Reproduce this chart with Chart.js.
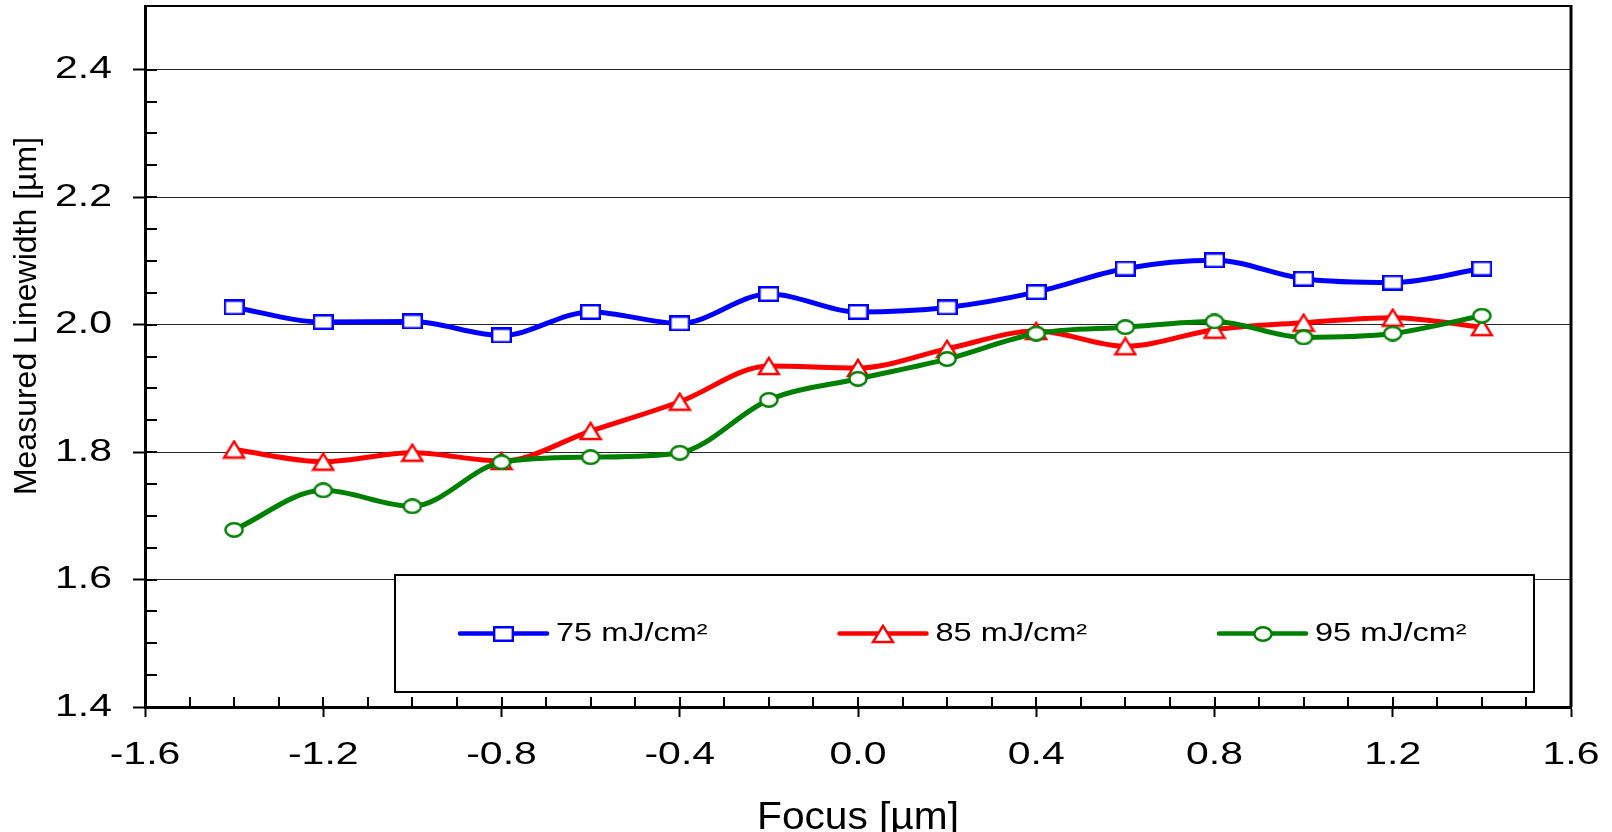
<!DOCTYPE html>
<html>
<head>
<meta charset="utf-8">
<title>Measured Linewidth vs Focus</title>
<script src="https://cdn.jsdelivr.net/npm/chart.js@4.4.1/dist/chart.umd.min.js"></script>
<style>
  html, body { margin: 0; padding: 0; background: #fff; }
  canvas { display: block; }
</style>
</head>
<body>
<canvas id="chart" width="1612" height="832"></canvas>
<script>
// focus positions [µm] and measured linewidth [µm] per dose
const focus = [-1.4, -1.2, -1.0, -0.8, -0.6, -0.4, -0.2, 0.0, 0.2, 0.4, 0.6, 0.8, 1.0, 1.2, 1.4];
const lw75 = [2.027, 2.004, 2.005, 1.983, 2.020, 2.002, 2.048, 2.020, 2.027, 2.051, 2.088, 2.101, 2.072, 2.066, 2.088];
const lw85 = [1.804, 1.785, 1.799, 1.786, 1.833, 1.879, 1.935, 1.932, 1.962, 1.990, 1.966, 1.992, 2.003, 2.011, 1.996];
const lw95 = [1.678, 1.740, 1.715, 1.784, 1.792, 1.799, 1.882, 1.915, 1.946, 1.986, 1.996, 2.005, 1.980, 1.986, 2.014];
const doseLabels = ['75 mJ/cm²', '85 mJ/cm²', '95 mJ/cm²'];

const xTicks = [-1.6, -1.2, -0.8, -0.4, 0.0, 0.4, 0.8, 1.2, 1.6];
const yTicks = [1.4, 1.6, 1.8, 2.0, 2.2, 2.4];
const xTitle = 'Focus [µm]';
const yTitle = 'Measured Linewidth [µm]';

const FONT = '"Liberation Sans", Arial, Helvetica, sans-serif';
const TICK_STRETCH = 1.3;     // tick numbers are drawn wide
const LEGEND_STRETCH = 1.25;
const LINE_WIDTH = 5;
Chart.defaults.font.family = FONT;
Chart.defaults.color = '#000';

// linear scale whose tick labels get a horizontal stretch
class WideTickScale extends Chart.LinearScale {
    drawLabels(chartArea) {
        if (!this.options.ticks.display) return;
        const ctx = this.ctx;
        for (const item of this.getLabelItems(chartArea)) {
            const o = item.options;
            ctx.save();
            ctx.translate(o.translation[0], o.translation[1]);
            ctx.scale(TICK_STRETCH, 1);
            ctx.font = item.font.string;
            ctx.fillStyle = o.color;
            ctx.textAlign = o.textAlign;
            ctx.textBaseline = o.textBaseline;
            ctx.fillText(item.label, 0, item.textOffset);
            ctx.restore();
        }
    }
}
WideTickScale.id = 'wideTickLinear';
WideTickScale.defaults = Chart.LinearScale.defaults;
Chart.register(WideTickScale);

// open markers, a bit wider than tall
function makeMarker(shape, color) {
    const c = document.createElement('canvas');
    if (shape === 'square') { c.width = 21; c.height = 16; }
    else if (shape === 'triangle') { c.width = 24; c.height = 20; }
    else { c.width = 20; c.height = 16; }
    const g = c.getContext('2d');
    g.fillStyle = '#fff';
    g.strokeStyle = color;
    g.lineWidth = 2.4;
    g.beginPath();
    if (shape === 'square') {
        g.rect(1.2, 1.2, 18.6, 13.6);
    } else if (shape === 'triangle') {
        g.moveTo(12, 1.8);
        g.lineTo(22, 18);
        g.lineTo(2, 18);
        g.closePath();
    } else {
        g.ellipse(10, 8, 8.6, 6.7, 0, 0, Math.PI * 2);
    }
    g.fill();
    g.stroke();
    return c;
}

const points = (ys) => focus.map((x, i) => ({x, y: ys[i]}));

// inner minor ticks plus top/right frame
const frameTicks = {
    id: 'frameTicks',
    afterDraw(chart) {
        const {ctx, chartArea: a, scales: {x, y}} = chart;
        ctx.save();
        ctx.strokeStyle = '#000';
        ctx.lineWidth = 2;
        ctx.beginPath();
        for (let i = 1; i < 32; i++) {
            const px = Math.round(x.getPixelForValue(-1.6 + i * 0.1));
            ctx.moveTo(px, a.bottom);
            ctx.lineTo(px, a.bottom - 10);
        }
        for (let i = 1; i < 21; i++) {
            const py = Math.round(y.getPixelForValue(1.4 + i * 0.05));
            ctx.moveTo(a.left, py);
            ctx.lineTo(a.left + 12, py);
        }
        ctx.stroke();

        ctx.beginPath();
        ctx.moveTo(a.left, a.top);
        ctx.lineTo(a.right, a.top);
        ctx.stroke();
        ctx.lineWidth = 3;
        ctx.beginPath();
        ctx.moveTo(a.right, a.top - 1);
        ctx.lineTo(a.right, a.bottom);
        ctx.stroke();
        ctx.restore();
    }
};

const axisTitles = {
    id: 'axisTitles',
    afterDraw(chart) {
        const {ctx, chartArea: a} = chart;
        ctx.save();
        ctx.fillStyle = '#000';
        ctx.textAlign = 'center';
        ctx.textBaseline = 'alphabetic';
        ctx.font = '38px ' + FONT;
        ctx.save();
        ctx.translate((a.left + a.right) / 2, 829);
        ctx.scale(1.07, 1);
        ctx.fillText(xTitle, 0, 0);
        ctx.restore();
        ctx.translate(36, 316);
        ctx.rotate(-Math.PI / 2);
        ctx.font = '32px ' + FONT;
        ctx.fillText(yTitle, 0, 0);
        ctx.restore();
    }
};

// boxed legend sitting inside the plot, line + marker samples
const legendBox = {
    id: 'legendBox',
    afterDatasetsDraw(chart) {
        const {ctx, chartArea: a} = chart;
        const left = a.left + 250, right = a.right - 37;
        const top = a.bottom - 132, bottom = a.bottom - 15;
        const cy = (top + bottom) / 2;
        ctx.save();
        ctx.fillStyle = '#fff';
        ctx.fillRect(left, top, right - left, bottom - top);
        ctx.strokeStyle = '#000';
        ctx.lineWidth = 2;
        ctx.strokeRect(left, top, right - left, bottom - top);
        ctx.font = '26px ' + FONT;
        ctx.textBaseline = 'middle';
        chart.data.datasets.forEach((ds, i) => {
            const x0 = left + 65 + i * 379.5;
            ctx.strokeStyle = ds.borderColor;
            ctx.lineWidth = 4.5;
            ctx.lineCap = 'round';
            ctx.beginPath();
            ctx.moveTo(x0, cy);
            ctx.lineTo(x0 + 87, cy);
            ctx.stroke();
            const m = ds.pointStyle;
            ctx.drawImage(m, Math.round(x0 + 43.5 - m.width / 2), Math.round(cy - m.height / 2));
            ctx.save();
            ctx.translate(x0 + 96, cy);
            ctx.scale(LEGEND_STRETCH, 1);
            ctx.fillStyle = '#000';
            ctx.fillText(ds.label, 0, 0);
            ctx.restore();
        });
        ctx.restore();
    }
};

const series = (label, ys, color, shape, order) => ({
    label,
    data: points(ys),
    borderColor: color,
    borderWidth: LINE_WIDTH,
    fill: false,
    cubicInterpolationMode: 'monotone',
    pointStyle: makeMarker(shape, color),
    pointRadius: 10,
    pointHoverRadius: 10,
    order
});

new Chart(document.getElementById('chart'), {
    type: 'line',
    data: {
        datasets: [
            series(doseLabels[0], lw75, '#0000ff', 'square', 1),
            series(doseLabels[1], lw85, '#ff0000', 'triangle', 1),
            series(doseLabels[2], lw95, '#008000', 'circle', 0)
        ]
    },
    options: {
        responsive: false,
        animation: false,
        events: [],
        layout: {autoPadding: false, padding: {top: 6, right: 41, bottom: 0, left: 0}},
        plugins: {
            legend: {display: false},
            tooltip: {enabled: false}
        },
        scales: {
            x: {
                type: 'wideTickLinear',
                min: -1.6,
                max: 1.6,
                afterBuildTicks: (scale) => { scale.ticks = xTicks.map(value => ({value})); },
                afterFit: (scale) => {
                    scale.height = 125;
                    scale.paddingLeft = 0;
                    scale.paddingRight = 0;
                },
                border: {color: '#000', width: 3},
                grid: {drawOnChartArea: false, tickLength: 10, tickWidth: 2, tickColor: '#000'},
                ticks: {
                    autoSkip: false,
                    maxRotation: 0,
                    padding: 19,
                    font: {size: 31.5},
                    callback: (v) => Number(v).toFixed(1)
                }
            },
            y: {
                type: 'wideTickLinear',
                min: 1.4,
                max: 2.5,
                afterBuildTicks: (scale) => { scale.ticks = yTicks.map(value => ({value})); },
                afterFit: (scale) => {
                    scale.width = 145;
                    scale.paddingTop = 0;
                    scale.paddingBottom = 0;
                },
                border: {color: '#000', width: 3},
                grid: {
                    color: (c) => (c.tick && c.tick.value > 1.45) ? '#262626' : 'rgba(0,0,0,0)',
                    lineWidth: 1,
                    tickLength: 12,
                    tickWidth: 2,
                    tickColor: '#000'
                },
                ticks: {
                    padding: 21,
                    font: {size: 31.5},
                    callback: (v) => Number(v).toFixed(1)
                }
            }
        }
    },
    plugins: [legendBox, frameTicks, axisTitles]
});
</script>
</body>
</html>
